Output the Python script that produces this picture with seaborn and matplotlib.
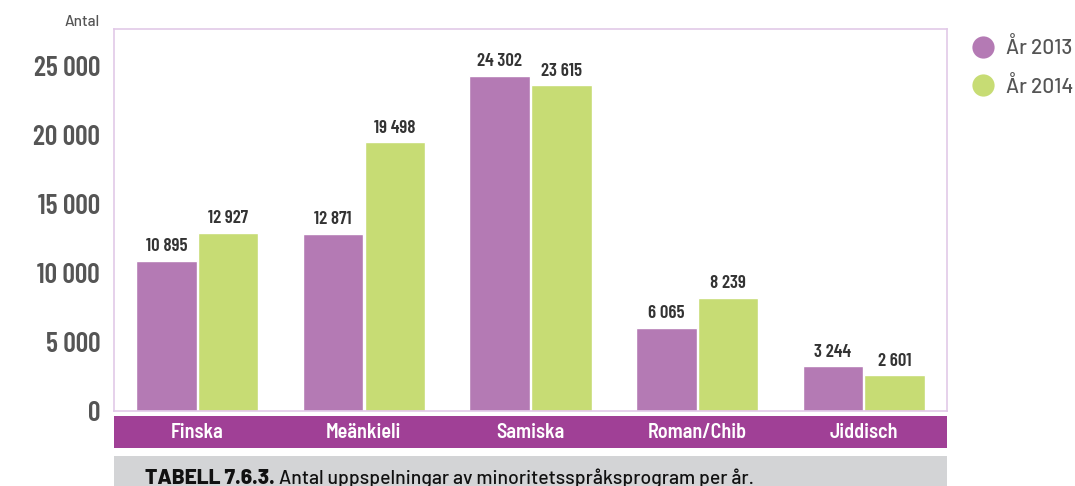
import pandas as pd
import matplotlib
matplotlib.use("Agg")
import matplotlib.pyplot as plt
from matplotlib.patches import Rectangle
from matplotlib.lines import Line2D
import seaborn as sns

# Data
languages = ["Finska", "Meänkieli", "Samiska", "Roman/Chib", "Jiddisch"]
years = ["År 2013", "År 2014"]
values_2013 = [10895, 12871, 24302, 6065, 3244]
values_2014 = [12927, 19498, 23615, 8239, 2601]
yticks = [0, 5000, 10000, 15000, 20000, 25000]

purple = "#b47ab4"
green = "#c7dc74"
band = "#a04096"
frame = "#e2c9e8"
grey = "#555555"

df = pd.DataFrame({
    "språk": languages * 2,
    "år": [years[0]] * 5 + [years[1]] * 5,
    "antal": values_2013 + values_2014,
})

sns.set_style("white")
plt.rcParams["font.family"] = ["Barlow Condensed", "DejaVu Sans"]
wide = ["Barlow", "DejaVu Sans"]
semi = ["Barlow Semi Condensed", "DejaVu Sans"]

fig = plt.figure(figsize=(10.75, 4.86), dpi=100)
ax = fig.add_axes([0.106, 0.154, 0.775, 0.786])

sns.barplot(data=df, x="språk", y="antal", hue="år", palette=[purple, green],
            width=0.74, gap=0.02, legend=False, ax=ax, saturation=1)

def fmt(v):
    return f"{v:,}".replace(",", " ")

for cont in ax.containers:
    ax.bar_label(cont, labels=[fmt(int(b.get_height())) for b in cont], padding=4,
                 fontsize=13.5, color="#333333", fontweight=600)

ax.set_xlim(-0.5, 4.5)
ax.set_ylim(0, 27700)
ax.set_yticks(yticks)
ax.set_yticklabels([fmt(t) for t in yticks], fontsize=20, color=grey, fontweight=600)
ax.set_xticks([])
ax.set_xlabel("")
ax.set_ylabel("")
ax.tick_params(axis="y", length=0, pad=10)
for s in ax.spines.values():
    s.set_color(frame)
    s.set_linewidth(1.2)

fig.text(0.093, 0.955, "Antal", ha="right", va="center", fontsize=11,
         color=grey, fontweight=500, family=wide)

# purple category band under the axes
fig.patches.append(Rectangle((0.106, 0.078), 0.775, 0.066, transform=fig.transFigure,
                             facecolor=band, edgecolor="none"))
for i, lang in enumerate(languages):
    x = 0.106 + 0.775 * (i + 0.5) / 5
    fig.text(x, 0.110, lang, ha="center", va="center", fontsize=14.5,
             color="white", fontweight=600, family=semi)

# caption box
fig.patches.append(Rectangle((0.106, 0.0), 0.775, 0.062, transform=fig.transFigure,
                             facecolor="#d3d4d6", edgecolor="none"))
t1 = fig.text(0.135, 0.005, "TABELL 7.6.3.", ha="left", va="baseline",
              fontsize=15, color="#111111", fontweight=800, family=wide)
fig.canvas.draw()
bb = t1.get_window_extent()
fig.text(bb.x1 / fig.bbox.width + 0.004, 0.005,
         "Antal uppspelningar av minoritetsspråksprogram per år.",
         ha="left", va="baseline", fontsize=14, color="#111111", fontweight=500,
         family=wide)

handles = [Line2D([], [], marker="o", linestyle="", markersize=16,
                  markerfacecolor=c, markeredgecolor="none") for c in [purple, green]]
leg = fig.legend(handles, years, loc="upper left", bbox_to_anchor=(0.904, 0.924),
                 frameon=False, fontsize=15, handletextpad=0.6, labelspacing=0.85,
                 handlelength=1.05, borderpad=0, borderaxespad=0,
                 prop={"family": wide, "size": 15, "weight": 500})
for t in leg.get_texts():
    t.set_color(grey)

fig.savefig("out.png", dpi=100)
